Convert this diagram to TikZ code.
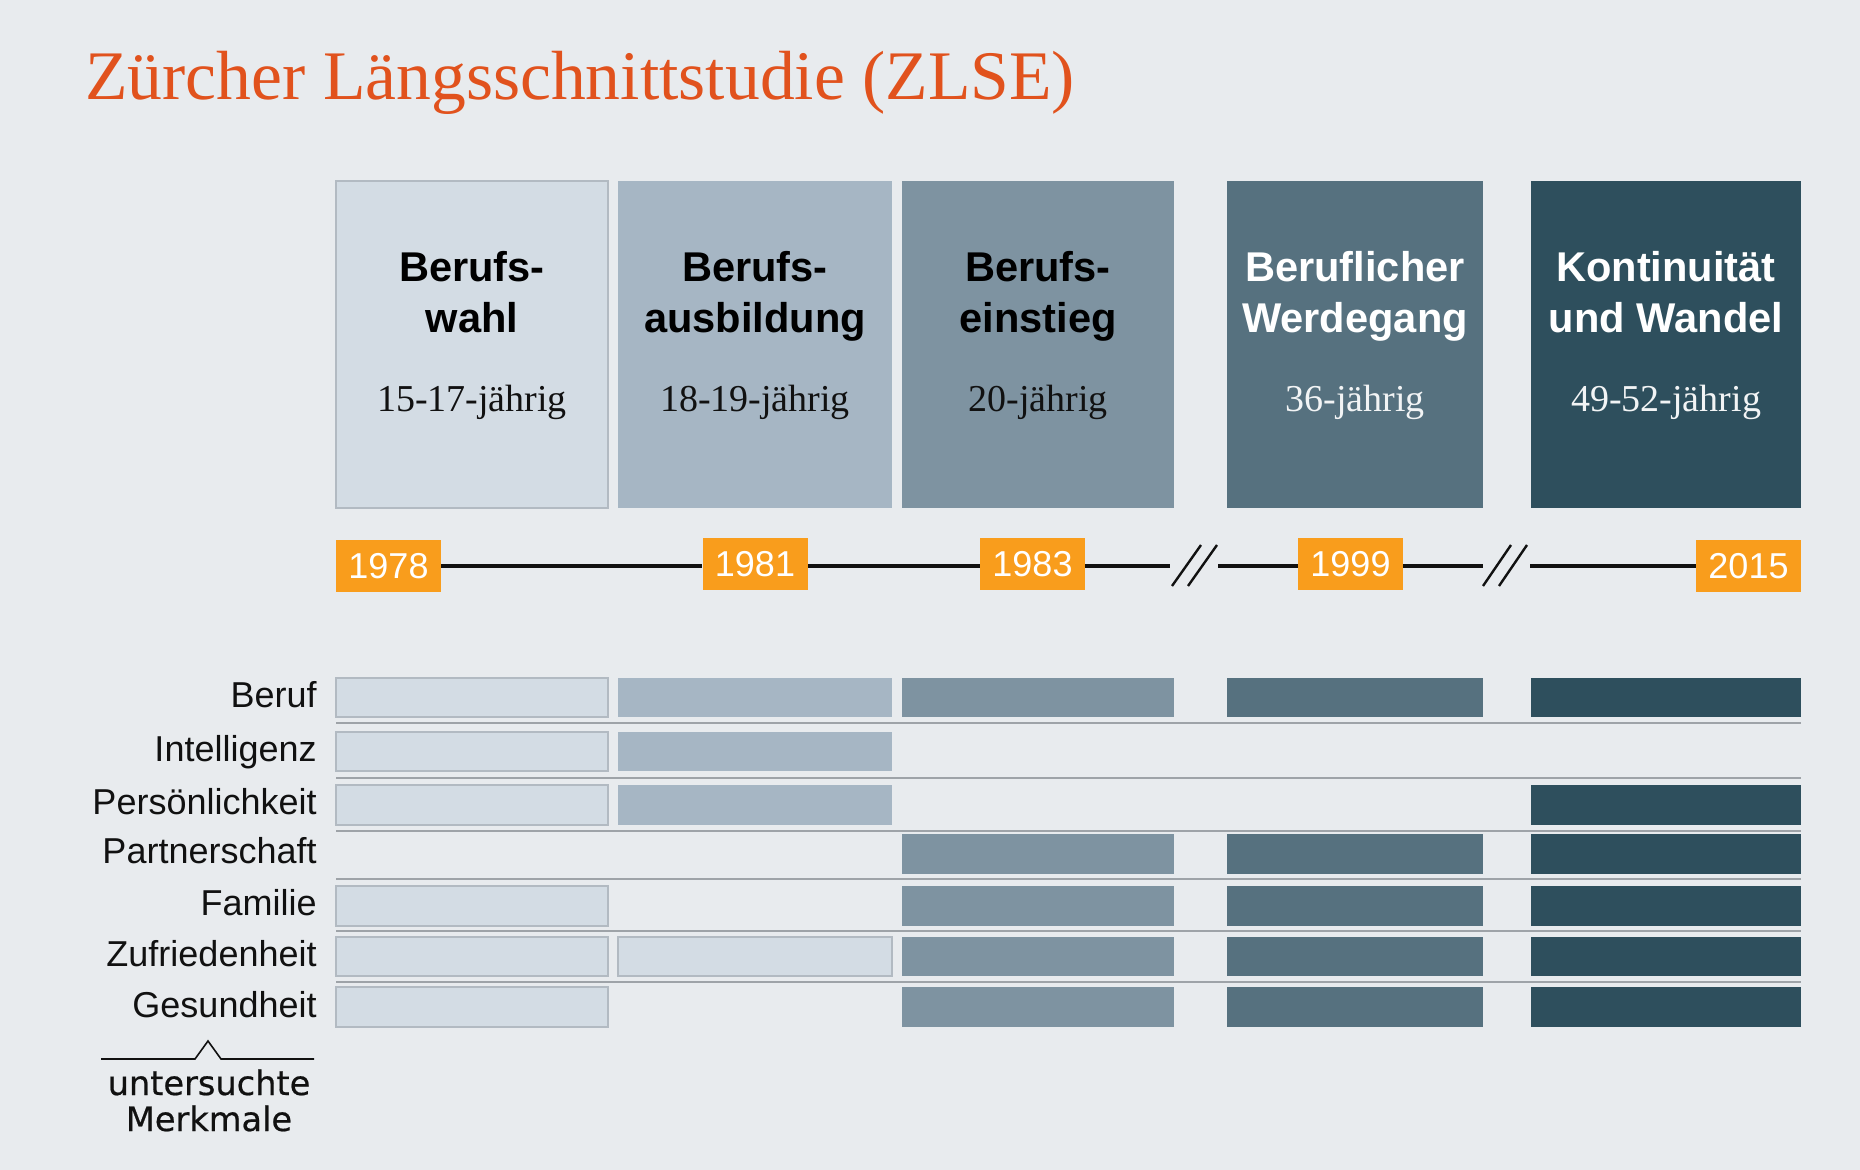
\documentclass[tikz,border=0pt]{standalone}
\usepackage{fontspec}
\setmainfont{Liberation Serif}
\newfontfamily\hsans{Liberation Sans}
\newfontfamily\dsans[FakeBold=0.6]{DejaVu Sans}
\definecolor{bg}{HTML}{E8EBEE}
\definecolor{cA}{HTML}{D3DCE4}
\definecolor{cB}{HTML}{A6B6C4}
\definecolor{cC}{HTML}{7E93A1}
\definecolor{cD}{HTML}{56717F}
\definecolor{cE}{HTML}{2E4F5D}
\definecolor{grayb}{HTML}{B2BAC2}
\definecolor{orangey}{HTML}{F99D1C}
\definecolor{titlec}{HTML}{E1521D}
\definecolor{sepc}{HTML}{9EA3A8}
\definecolor{ink}{HTML}{111111}
\definecolor{lightink}{HTML}{F2F4F5}
\begin{document}
\begin{tikzpicture}[x=0.5pt,y=-0.5pt,
  phase/.style={rectangle,inner sep=0pt,minimum width=#1,minimum height=163.5pt},
  head/.style={anchor=base,inner sep=0pt,font=\hsans\bfseries\fontsize{20.8}{24}\selectfont},
  age/.style={anchor=base,inner sep=0pt,font=\fontsize{19}{22}\selectfont},
  year/.style={rectangle,inner sep=0pt,fill=orangey,text=white,minimum width=52.5pt,minimum height=26pt,font=\hsans\fontsize{18}{20}\selectfont},
  tl/.style={line width=2pt,draw=ink},
  brk/.style={line width=1.2pt,draw=ink},
  rowlab/.style={anchor=base east,inner sep=0pt,text=ink,font=\hsans\fontsize{18}{20}\selectfont},
  sepline/.style={draw=sepc,line width=1pt},
  cellA/.style={fill=cA,draw=grayb,line width=0.6pt},
  cellB/.style={fill=cB},
  cellC/.style={fill=cC},
  cellD/.style={fill=cD},
  cellE/.style={fill=cE}]
\fill[bg] (0,0) rectangle (1860,1170);
\useasboundingbox (0,0) rectangle (1860,1170);

% title
\node[anchor=base west,inner sep=0pt,text=titlec,font=\fontsize{34.8}{40}\selectfont] (title) at (85,100) {Zürcher Längsschnittstudie (ZLSE)};

% phase boxes
\node[phase=136pt,fill=cA,draw=grayb,line width=0.6pt] (b1) at (472,344.5) {};
\node[phase=137pt,fill=cB] (b2) at (755,344.5) {};
\node[phase=136pt,fill=cC] (b3) at (1038,344.5) {};
\node[phase=128pt,fill=cD] (b4) at (1355,344.5) {};
\node[phase=135pt,fill=cE] (b5) at (1666,344.5) {};

\node[head,text=black] (h1a) at (472,282) {Berufs-};
\node[head,text=black] (h1b) at (472,333) {wahl};
\node[age,text=ink] (a1) at (472,412) {15-17-jährig};

\node[head,text=black] (h2a) at (755,282) {Berufs-};
\node[head,text=black] (h2b) at (755,333) {ausbildung};
\node[age,text=ink] (a2) at (755,412) {18-19-jährig};

\node[head,text=black] (h3a) at (1038,282) {Berufs-};
\node[head,text=black] (h3b) at (1038,333) {einstieg};
\node[age,text=ink] (a3) at (1038,412) {20-jährig};

\node[head,text=white] (h4a) at (1355,282) {Beruflicher};
\node[head,text=white] (h4b) at (1355,333) {Werdegang};
\node[age,text=lightink] (a4) at (1355,412) {36-jährig};

\node[head,text=white] (h5a) at (1666,282) {Kontinuität};
\node[head,text=white] (h5b) at (1666,333) {und Wandel};
\node[age,text=lightink] (a5) at (1666,412) {49-52-jährig};

% timeline
\node[year] (y1978) at (388.5,566) {1978};
\node[year] (y1981) at (755,564) {1981};
\node[year] (y1983) at (1032.5,564) {1983};
\node[year] (y1999) at (1350.5,564) {1999};
\node[year] (y2015) at (1748.5,566) {2015};
\coordinate (g1a) at (1170,566);
\coordinate (g1b) at (1218,566);
\coordinate (g2a) at (1483,566);
\coordinate (g2b) at (1530,566);
\draw[tl] (y1978.east |- g1a) -- (y1981.west |- g1a);
\draw[tl] (y1981.east |- g1a) -- (y1983.west |- g1a);
\draw[tl] (y1983.east |- g1a) -- (g1a);
\draw[tl] (g1b) -- (y1999.west |- g1b);
\draw[tl] (y1999.east |- g2a) -- (g2a);
\draw[tl] (g2b) -- (y2015.west |- g2b);
\draw[brk] (1172,586) -- (1201,545);
\draw[brk] (1188,586) -- (1217,545);
\draw[brk] (1483,586) -- (1511,545);
\draw[brk] (1499,586) -- (1527,545);

% separators
\foreach \yy in {723,778,831,879,931,982}
  \draw[sepline] (336,\yy) -- (1801,\yy);

% row labels
\node[rowlab] (lBeruf) at (317,708) {Beruf};
\node[rowlab] (lIntel) at (317,762) {Intelligenz};
\node[rowlab] (lPers) at (317,815) {Persönlichkeit};
\node[rowlab] (lPart) at (317,864) {Partnerschaft};
\node[rowlab] (lFam) at (317,916) {Familie};
\node[rowlab] (lZuf) at (317,966) {Zufriedenheit};
\node[rowlab] (lGes) at (317,1017) {Gesundheit};

% Beruf
\path[cellA] (336,678) rectangle (608,717);
\path[cellB] (618,678) rectangle (892,717);
\path[cellC] (902,678) rectangle (1174,717);
\path[cellD] (1227,678) rectangle (1483,717);
\path[cellE] (1531,678) rectangle (1801,717);
% Intelligenz
\path[cellA] (336,732) rectangle (608,771);
\path[cellB] (618,732) rectangle (892,771);
% Persoenlichkeit
\path[cellA] (336,785) rectangle (608,825);
\path[cellB] (618,785) rectangle (892,825);
\path[cellE] (1531,785) rectangle (1801,825);
% Partnerschaft
\path[cellC] (902,834) rectangle (1174,874);
\path[cellD] (1227,834) rectangle (1483,874);
\path[cellE] (1531,834) rectangle (1801,874);
% Familie
\path[cellA] (336,886) rectangle (608,926);
\path[cellC] (902,886) rectangle (1174,926);
\path[cellD] (1227,886) rectangle (1483,926);
\path[cellE] (1531,886) rectangle (1801,926);
% Zufriedenheit
\path[cellA] (336,937) rectangle (608,976);
\path[cellA] (618,937) rectangle (892,976);
\path[cellC] (902,937) rectangle (1174,976);
\path[cellD] (1227,937) rectangle (1483,976);
\path[cellE] (1531,937) rectangle (1801,976);
% Gesundheit
\path[cellA] (336,987) rectangle (608,1027);
\path[cellC] (902,987) rectangle (1174,1027);
\path[cellD] (1227,987) rectangle (1483,1027);
\path[cellE] (1531,987) rectangle (1801,1027);

% bracket and caption
\draw[draw=ink,line width=0.8pt] (101,1059) -- (195,1059) -- (208,1041) -- (221,1059) -- (314,1059);
\node[anchor=base,inner sep=0pt,text=ink,font=\dsans\fontsize{16.8}{20}\selectfont] (cap1) at (209,1095) {untersuchte};
\node[anchor=base,inner sep=0pt,text=ink,font=\dsans\fontsize{16.8}{20}\selectfont] (cap2) at (209,1131) {Merkmale};
\end{tikzpicture}
\end{document}
